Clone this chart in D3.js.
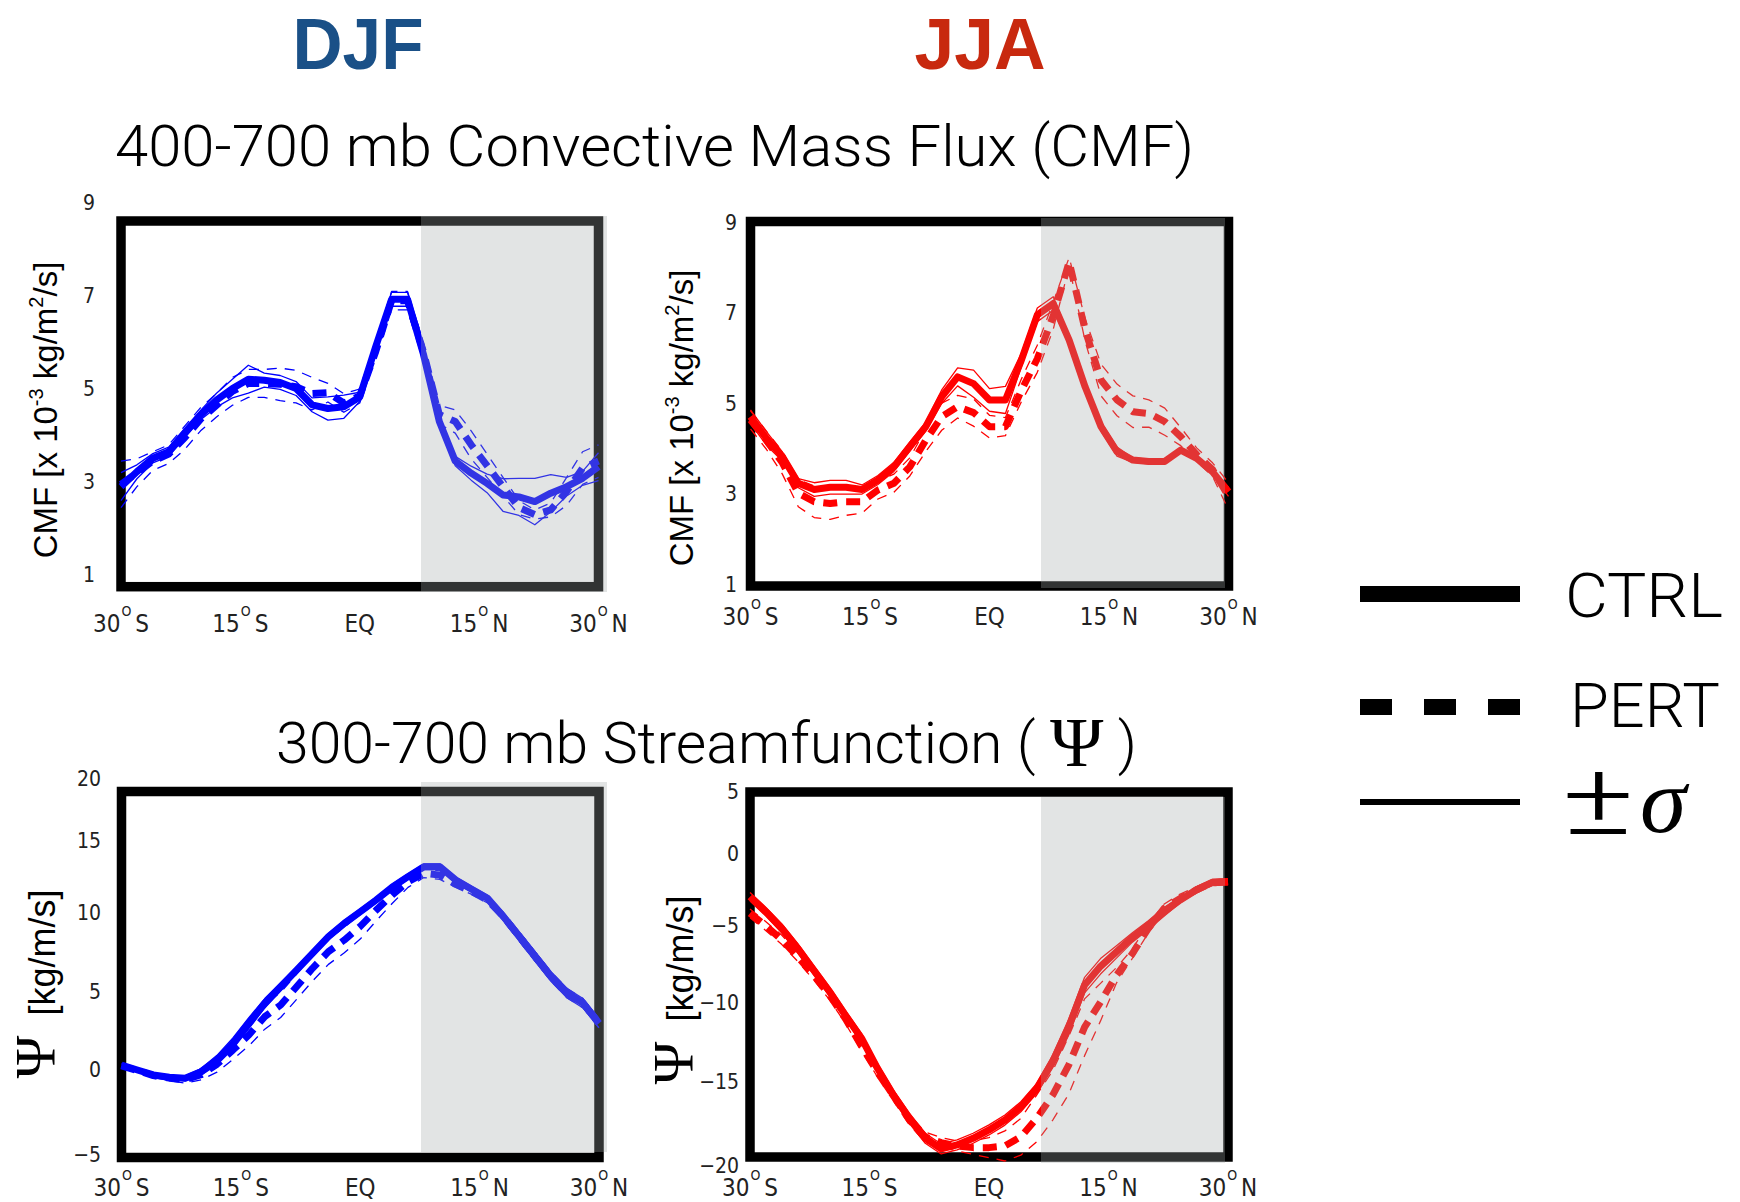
<!DOCTYPE html>
<html>
<head>
<meta charset="utf-8">
<script src="https://cdn.jsdelivr.net/npm/d3@7"></script>
<style>
  html, body { margin: 0; padding: 0; background: #fff; }
  svg { display: block; }
</style>
</head>
<body>
<svg id="chart" width="1740" height="1202"></svg>
<script>
// ---------- data ----------
const lat = [-30,-28,-26,-24,-22,-20,-18,-16,-14,-12,-10,-8,-6,-4,-2,0,2,4,6,8,10,12,14,16,18,20,22,24,26,28,30];

// 400-700 mb convective mass flux, DJF [x 10^-3 kg/m2/s]
const djfCmfCtrl   = [2.90,3.22,3.51,3.65,4.05,4.44,4.76,5.01,5.21,5.19,5.14,5.01,4.66,4.58,4.62,4.83,5.91,6.93,6.93,5.75,4.30,3.45,3.19,2.97,2.72,2.68,2.58,2.76,2.90,3.08,3.33];
const djfCmfPert   = [2.95,3.20,3.45,3.60,3.95,4.35,4.65,4.95,5.12,5.12,5.10,5.05,4.90,4.92,4.70,4.85,5.80,6.90,6.90,5.80,4.45,4.30,3.80,3.35,2.90,2.45,2.30,2.40,2.80,3.30,3.45];
const djfCmfCtrlSd = [0.30,0.15,0.10,0.10,0.10,0.10,0.15,0.20,0.30,0.15,0.15,0.15,0.15,0.25,0.25,0.10,0.10,0.15,0.15,0.10,0.10,0.10,0.15,0.20,0.35,0.40,0.50,0.40,0.20,0.15,0.30];
const djfCmfPertSd = [0.50,0.30,0.20,0.20,0.25,0.25,0.25,0.30,0.30,0.30,0.35,0.35,0.35,0.20,0.20,0.15,0.15,0.20,0.20,0.20,0.20,0.25,0.30,0.25,0.20,0.15,0.10,0.15,0.30,0.35,0.35];

// 400-700 mb convective mass flux, JJA
const jjaCmfCtrl   = [4.72,4.24,3.84,3.25,3.11,3.16,3.16,3.11,3.32,3.61,4.06,4.50,5.16,5.60,5.45,5.09,5.09,5.97,6.97,7.22,6.41,5.38,4.50,3.95,3.76,3.73,3.73,3.98,3.80,3.50,3.06];
const jjaCmfPert   = [4.65,4.20,3.70,3.03,2.84,2.80,2.84,2.84,3.10,3.25,3.61,4.20,4.72,4.94,4.81,4.50,4.50,5.30,6.00,6.95,8.14,6.64,5.53,5.09,4.83,4.79,4.61,4.28,3.88,3.55,2.96];
const jjaCmfCtrlSd = [0.15,0.15,0.10,0.10,0.15,0.15,0.15,0.10,0.10,0.10,0.10,0.10,0.15,0.20,0.30,0.25,0.30,0.15,0.15,0.15,0.10,0.10,0.10,0.10,0.05,0.05,0.05,0.05,0.05,0.05,0.10];
const jjaCmfPertSd = [0.20,0.20,0.25,0.30,0.35,0.35,0.30,0.25,0.20,0.20,0.20,0.25,0.30,0.25,0.30,0.25,0.20,0.25,0.30,0.30,0.10,0.25,0.35,0.35,0.35,0.30,0.30,0.20,0.15,0.15,0.30];

// 300-700 mb streamfunction, DJF [kg/m/s]
const djfPsiCtrl   = [0.35,0.03,-0.26,-0.40,-0.46,-0.07,0.67,1.74,3.03,4.31,5.36,6.41,7.46,8.51,9.35,10.09,10.91,11.80,12.54,13.24,13.24,12.31,11.66,11.03,9.77,8.51,7.25,5.99,4.95,4.31,3.03];
const djfPsiPert   = [0.30,0.00,-0.30,-0.45,-0.55,-0.25,0.40,1.31,2.28,3.45,4.20,5.36,6.52,7.57,8.30,9.16,10.20,11.26,12.19,12.78,12.65,12.00,11.50,10.90,9.77,8.51,7.25,5.99,4.95,4.31,3.03];
const djfPsiCtrlSd = [0.10,0.10,0.10,0.10,0.15,0.20,0.30,0.35,0.35,0.30,0.25,0.20,0.20,0.20,0.20,0.20,0.20,0.20,0.20,0.20,0.20,0.20,0.20,0.20,0.25,0.30,0.30,0.30,0.30,0.30,0.30];
const djfPsiPertSd = [0.10,0.10,0.10,0.15,0.20,0.30,0.50,0.60,0.70,0.80,0.80,0.80,0.80,0.80,0.80,0.80,0.70,0.60,0.40,0.30,0.30,0.20,0.20,0.20,0.25,0.30,0.30,0.30,0.30,0.30,0.30];

// 300-700 mb streamfunction, JJA
const jjaPsiCtrl   = [-2.97,-4.01,-5.15,-6.44,-7.85,-9.24,-10.76,-12.20,-14.10,-15.75,-17.14,-18.34,-18.98,-18.74,-18.34,-17.84,-17.25,-16.45,-15.35,-13.66,-11.50,-8.81,-7.60,-6.67,-5.74,-4.93,-4.00,-3.19,-2.50,-1.97,-1.92];
const jjaPsiPert   = [-4.12,-5.00,-5.90,-6.99,-8.18,-9.47,-10.98,-12.70,-14.35,-15.80,-17.24,-18.27,-18.60,-18.80,-18.90,-18.90,-18.80,-18.25,-17.14,-15.75,-13.90,-11.50,-9.90,-8.18,-6.78,-5.15,-3.77,-3.08,-2.50,-2.00,-1.92];
const jjaPsiCtrlSd = [0.30,0.30,0.30,0.30,0.30,0.30,0.30,0.30,0.30,0.30,0.30,0.30,0.30,0.30,0.30,0.30,0.30,0.30,0.30,0.40,0.50,0.50,0.50,0.40,0.30,0.30,0.30,0.20,0.20,0.20,0.20];
const jjaPsiPertSd = [0.30,0.30,0.30,0.30,0.30,0.30,0.30,0.30,0.30,0.30,0.30,0.30,0.30,0.30,0.40,0.60,0.90,1.10,1.40,1.50,1.80,1.80,1.20,0.50,0.30,0.30,0.30,0.30,0.20,0.20,0.20];

// axis ticks and labels
const cmfTicks    = [1, 3, 5, 7, 9];
const djfPsiTicks = [-5, 0, 5, 10, 15, 20];
const jjaPsiTicks = [-20, -15, -10, -5, 0, 5];
const latTicks    = [-30, -15, 0, 15, 30];
const latTickNum  = ["30", "15", "EQ", "15", "30"];
const latTickHemi = ["S", "S", "", "N", "N"];

const seasons      = ["DJF", "JJA"];
const legendLabels = ["CTRL", "PERT"];

// ---------- layout ----------
const FONT_NARROW = "'Liberation Sans Narrow','DejaVu Sans Condensed','Liberation Sans',sans-serif";
const FONT_SANS   = "'Liberation Sans',Arial,sans-serif";
const FONT_LIGHT  = "Roboto,'Liberation Sans',sans-serif";
const FONT_SERIF  = "'Liberation Serif','DejaVu Serif',serif";

const BLUE = "#0000ff", RED = "#ff0000";

const panels = [
  { ctrl: djfCmfCtrl, pert: djfCmfPert, ctrlSd: djfCmfCtrlSd, pertSd: djfCmfPertSd, color: BLUE,
    frame: [121, 598.5, 221, 586.7], ticks: cmfTicks, tickRows: [575, 203], piecewise: false,
    shade: [421, 607, 216, 592], tickRight: 95, xLabelY: 632, yTitle: "cmf", yTitlePos: [57, 410] },
  { ctrl: jjaCmfCtrl, pert: jjaCmfPert, ctrlSd: jjaCmfCtrlSd, pertSd: jjaCmfPertSd, color: RED,
    frame: [750.5, 1228.5, 221.5, 586], ticks: cmfTicks, tickRows: [585, 223], piecewise: false,
    shade: [1041, 1225, 218, 588], tickRight: 737, xLabelY: 625, yTitle: "cmf", yTitlePos: [693, 418] },
  { ctrl: djfPsiCtrl, pert: djfPsiPert, ctrlSd: djfPsiCtrlSd, pertSd: djfPsiPertSd, color: BLUE,
    frame: [121.5, 599, 791.5, 1157.5], ticks: djfPsiTicks, tickRows: [1155.5, 1070.5, 992.5, 913, 841.5, 779.5], piecewise: true,
    shade: [421, 607, 782, 1152], tickRight: 101, xLabelY: 1196, yTitle: "psi", yTitlePos: [55, 984] },
  { ctrl: jjaPsiCtrl, pert: jjaPsiPert, ctrlSd: jjaPsiCtrlSd, pertSd: jjaPsiPertSd, color: RED,
    frame: [750, 1228, 792, 1157], ticks: jjaPsiTicks, tickRows: [1166, 1082.5, 1003.5, 926, 854, 792.5], piecewise: true,
    shade: [1041, 1225, 797, 1163], tickRight: 739, xLabelY: 1196, yTitle: "psi", yTitlePos: [693, 990] }
];

const svg = d3.select("#chart");
svg.append("rect").attr("width", 1740).attr("height", 1202).attr("fill", "#fff");

// ---------- season headers and row titles ----------
const headerColor = { DJF: "#1a5087", JJA: "#c8290f" };
const headerX = { DJF: 358, JJA: 980 };
svg.selectAll("text.season").data(seasons).join("text")
  .attr("class", "season")
  .attr("x", d => headerX[d]).attr("y", 69)
  .attr("text-anchor", "middle")
  .attr("font-family", FONT_SANS).attr("font-weight", "bold").attr("font-size", 72)
  .attr("fill", d => headerColor[d])
  .attr("textLength", 131).attr("lengthAdjust", "spacingAndGlyphs")
  .text(d => d);

svg.append("text")
  .attr("x", 115).attr("y", 166)
  .attr("font-family", FONT_LIGHT).attr("font-weight", 300).attr("font-size", 57)
  .attr("fill", "#000")
  .attr("textLength", 1079).attr("lengthAdjust", "spacingAndGlyphs")
  .text("400-700 mb Convective Mass Flux (CMF)");

const t2 = svg.append("text")
  .attr("x", 276).attr("y", 763)
  .attr("font-family", FONT_LIGHT).attr("font-weight", 300).attr("font-size", 57)
  .attr("fill", "#000")
  .attr("textLength", 861).attr("lengthAdjust", "spacingAndGlyphs");
t2.append("tspan").text("300-700 mb Streamfunction ( ");
t2.append("tspan").attr("font-family", FONT_SERIF).attr("font-size", 70).attr("dy", 3).text("\u03A8");
t2.append("tspan").attr("dy", -3).text(" )");

// ---------- panels ----------
panels.forEach(p => {
  const [fx0, fx1, fy0, fy1] = p.frame;
  const x = d3.scaleLinear().domain([-30, 30]).range([fx0, fx1]);
  const y = p.piecewise
    ? d3.scaleLinear().domain(p.ticks).range(p.tickRows)
    : d3.scaleLinear().domain([p.ticks[0], p.ticks[p.ticks.length - 1]]).range(p.tickRows);

  const g = svg.append("g");

  // frame
  g.append("rect")
    .attr("x", fx0).attr("y", fy0).attr("width", fx1 - fx0).attr("height", fy1 - fy0)
    .attr("fill", "none").attr("stroke", "#000").attr("stroke-width", 9.5);

  const line = d3.line().x((d, i) => x(lat[i])).y(d => y(d));
  const plus  = (m, s) => m.map((v, i) => v + s[i]);
  const minus = (m, s) => m.map((v, i) => v - s[i]);

  const series = [
    { d: plus(p.ctrl, p.ctrlSd),  w: 1.3, dash: null },
    { d: minus(p.ctrl, p.ctrlSd), w: 1.3, dash: null },
    { d: plus(p.pert, p.pertSd),  w: 1.3, dash: "10,8" },
    { d: minus(p.pert, p.pertSd), w: 1.3, dash: "10,8" },
    { d: p.pert, w: 7, dash: "14,9" },
    { d: p.ctrl, w: 7, dash: null }
  ];
  g.selectAll("path.series").data(series).join("path")
    .attr("class", "series")
    .attr("d", s => line(s.d))
    .attr("fill", "none")
    .attr("stroke", p.color)
    .attr("stroke-width", s => s.w)
    .attr("stroke-linejoin", "round")
    .attr("stroke-dasharray", s => s.dash);

  // northern-hemisphere shading
  const [sx0, sx1, sy0, sy1] = p.shade;
  g.append("rect")
    .attr("x", sx0).attr("y", sy0).attr("width", sx1 - sx0).attr("height", sy1 - sy0)
    .attr("fill", "rgb(160,168,168)").attr("fill-opacity", 0.31);

  // y axis
  const ax = g.append("g")
    .attr("transform", `translate(${p.tickRight},0)`)
    .call(d3.axisLeft(y).tickValues(p.ticks).tickSize(0).tickPadding(0).tickFormat(d3.format("d")));
  ax.select(".domain").remove();
  ax.selectAll("text")
    .attr("font-family", FONT_NARROW).attr("font-size", 21).attr("fill", "#222")
    .attr("dy", "0.3em");

  // latitude labels with a raised degree "O"
  const xl = g.selectAll("text.lat").data(latTicks).join("text")
    .attr("class", "lat")
    .attr("x", d => x(d)).attr("y", p.xLabelY)
    .attr("text-anchor", "middle")
    .attr("font-family", FONT_NARROW).attr("font-size", 24).attr("fill", "#222");
  xl.each(function(d, i) {
    const t = d3.select(this);
    t.append("tspan").text(latTickNum[i]);
    if (latTickHemi[i]) {
      t.append("tspan").attr("font-size", 14).attr("dx", 1).attr("dy", -16).text("O");
      t.append("tspan").attr("dx", 4).attr("dy", 16).text(latTickHemi[i]);
    }
  });

  // y title
  const [tx, ty] = p.yTitlePos;
  const yt = g.append("text")
    .attr("transform", `translate(${tx},${ty}) rotate(-90)`)
    .attr("text-anchor", "middle")
    .attr("font-family", FONT_SANS).attr("fill", "#000");
  if (p.yTitle === "cmf") {
    yt.attr("font-size", 33);
    yt.append("tspan").text("CMF [x 10");
    yt.append("tspan").attr("font-size", 20).attr("dy", -14).text("-3");
    yt.append("tspan").attr("dy", 14).text(" kg/m");
    yt.append("tspan").attr("font-size", 20).attr("dy", -14).text("2");
    yt.append("tspan").attr("dy", 14).text("/s]");
  } else {
    yt.attr("font-size", 36);
    yt.append("tspan").attr("font-family", FONT_SERIF).attr("font-size", 58).text("\u03A8");
    yt.append("tspan").text("\u00A0\u00A0[kg/m/s]");
  }
});

// ---------- legend ----------
const legY = [594, 707];
const legTextY = [617, 727];
const lg = svg.append("g");
lg.selectAll("line.leg").data(legendLabels).join("line")
  .attr("class", "leg")
  .attr("x1", 1360).attr("x2", 1520)
  .attr("y1", (d, i) => legY[i]).attr("y2", (d, i) => legY[i])
  .attr("stroke", "#000").attr("stroke-width", 16)
  .attr("stroke-dasharray", (d, i) => i === 1 ? "32,32" : null);
lg.selectAll("text.leg").data(legendLabels).join("text")
  .attr("class", "leg")
  .attr("x", (d, i) => i === 0 ? 1565 : 1570)
  .attr("y", (d, i) => legTextY[i])
  .attr("font-family", FONT_LIGHT).attr("font-weight", 300).attr("font-size", 62)
  .attr("textLength", (d, i) => i === 0 ? 158 : 150).attr("lengthAdjust", "spacingAndGlyphs")
  .text(d => d);

lg.append("line")
  .attr("x1", 1360).attr("x2", 1520).attr("y1", 802).attr("y2", 802)
  .attr("stroke", "#000").attr("stroke-width", 6);
lg.append("text").attr("x", 1562).attr("y", 834)
  .attr("font-family", FONT_LIGHT).attr("font-weight", 300).attr("font-size", 100)
  .attr("textLength", 72).attr("lengthAdjust", "spacingAndGlyphs")
  .text("\u00B1");
lg.append("text").attr("x", 1640).attr("y", 832)
  .attr("font-family", FONT_SERIF).attr("font-style", "italic").attr("font-size", 94)
  .text("\u03C3");
</script>
</body>
</html>
